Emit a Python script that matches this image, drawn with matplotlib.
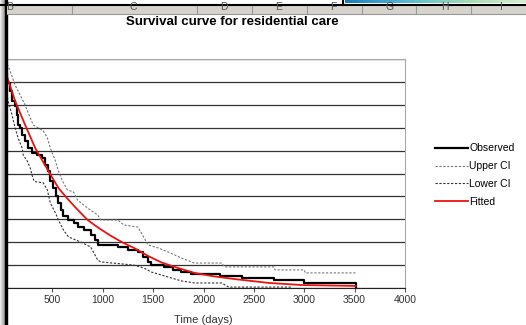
import numpy as np
import matplotlib.pyplot as plt
from matplotlib.patches import Rectangle

plt.rcParams['font.family'] = ['Liberation Sans', 'DejaVu Sans']

# Observed (Kaplan-Meier steps)
obs_t = [0, 30, 50, 80, 100, 130, 150, 160, 180, 200, 230, 260, 300, 350, 400, 430,
         460, 480, 510, 540, 560, 590, 610, 660, 710, 750, 810, 880, 920, 950, 1150,
         1250, 1350, 1400, 1450, 1480, 1610, 1700, 1780, 1880, 2160, 2380, 2700,
         3000, 3510]
obs_s = [1.0, 0.94, 0.895, 0.86, 0.817, 0.795, 0.755, 0.712, 0.699, 0.668, 0.642,
         0.611, 0.59, 0.581, 0.568, 0.537, 0.511, 0.467, 0.437, 0.40, 0.371, 0.34,
         0.314, 0.297, 0.284, 0.266, 0.253, 0.231, 0.21, 0.188, 0.179, 0.166, 0.157,
         0.135, 0.114, 0.10, 0.092, 0.08, 0.07, 0.061, 0.052, 0.044, 0.035, 0.022,
         0.004]

# Upper confidence limit
up_t = [0, 40, 80, 130, 180, 230, 260, 310, 360, 410, 450, 480, 530, 560, 600, 650,
        710, 750, 850, 950, 980, 1150, 1210, 1350, 1450, 1550, 1650, 1780, 1910,
        2180, 2210, 2700, 2710, 3000, 3010, 3510]
up_s = [1.0, 0.99, 0.948, 0.886, 0.843, 0.799, 0.764, 0.712, 0.699, 0.686, 0.655,
        0.611, 0.555, 0.511, 0.467, 0.428, 0.419, 0.384, 0.349, 0.319, 0.297, 0.297,
        0.275, 0.266, 0.188, 0.175, 0.157, 0.131, 0.109, 0.109, 0.092, 0.092, 0.079,
        0.079, 0.066, 0.066]

# Lower confidence limit
lo_t = [0, 30, 60, 100, 130, 160, 200, 210, 250, 280, 300, 320, 410, 450, 480, 530,
        560, 610, 660, 780, 880, 950, 980, 1310, 1410, 1480, 1550, 1680, 1780, 1910,
        2180, 2250, 2880]
lo_s = [1.0, 0.90, 0.817, 0.755, 0.699, 0.655, 0.611, 0.581, 0.555, 0.524, 0.49,
        0.465, 0.459, 0.428, 0.371, 0.328, 0.297, 0.253, 0.223, 0.201, 0.179, 0.122,
        0.114, 0.100, 0.087, 0.070, 0.061, 0.044, 0.031, 0.022, 0.022, 0.004, 0.004]

# Fitted curve
fit_t = [0, 30, 130, 230, 330, 460, 560, 650, 750, 850, 960, 1080, 1200, 1310, 1450,
         1580, 1750, 1910, 2100, 2310, 2650, 2980, 3510]
fit_s = [1.0, 0.95, 0.817, 0.712, 0.611, 0.511, 0.437, 0.390, 0.342, 0.297, 0.262,
         0.228, 0.198, 0.175, 0.140, 0.112, 0.087, 0.066, 0.051, 0.039, 0.022, 0.013,
         0.009]

xticks = [500, 1000, 1500, 2000, 2500, 3000, 3500, 4000]
col_letters = ['B', 'C', 'D', 'E', 'F', 'G', 'H', 'I']

W, H = 526, 325
fig = plt.figure(figsize=(W / 100, H / 100), dpi=100)

ax = fig.add_axes([2 / W, 1 - 288 / H, 403 / W, 229 / H])
ax.plot(obs_t, obs_s, color='black', lw=1.6, drawstyle='steps-post', label='Observed', zorder=4)
ax.plot(up_t, up_s, color='#777777', lw=0.8, ls=(0, (2, 1.5)), label='Upper CI', zorder=3)
ax.plot(lo_t, lo_s, color='#333333', lw=0.8, ls=(0, (2, 1.5)), label='Lower CI', zorder=3)
ax.plot(fit_t, fit_s, color='#ee1111', lw=1.3, label='Fitted', zorder=5)

ax.set_xlim(0, 4000)
ax.set_ylim(0, 1)
ax.set_yticks(np.arange(0, 1.01, 0.1))
ax.set_yticklabels([])
ax.tick_params(axis='y', length=0)
ax.yaxis.grid(True, color='#333333', lw=0.9)
ax.set_axisbelow(True)
ax.set_xticks(xticks)
ax.set_xticklabels([str(v) for v in xticks], fontsize=7.5, color='#333333')
ax.tick_params(axis='x', length=3, width=0.8, color='#555555', pad=2)
ax.spines['left'].set_visible(False)
ax.spines['top'].set_color('#aaaaaa')
ax.spines['right'].set_color('#aaaaaa')
ax.spines['bottom'].set_color('#222222')

ax.legend(loc='upper left', bbox_to_anchor=(426 / W, 1 - 134 / H),
          bbox_transform=fig.transFigure, frameon=False, fontsize=7.5,
          handlelength=3.1, handletextpad=0.15, labelspacing=0.75, borderpad=0.4)

fig.text(232 / W, 1 - 22 / H, 'Survival curve for residential care',
         fontsize=9.5, fontweight='bold', ha='center', va='center')
fig.text(203 / W, 1 - 320 / H, 'Time (days)', fontsize=8, ha='center',
         va='center', color='#333333')

# window decoration overlay
ov = fig.add_axes([0, 0, 1, 1], facecolor='none')
ov.set_xlim(0, W)
ov.set_ylim(H, 0)
ov.axis('off')

grad = np.linspace(0.95, 0.6, 20).reshape(1, -1)
ov.imshow(grad, cmap='gray', vmin=0, vmax=1, extent=(0, 5, H, 0), aspect='auto')
ov.add_patch(Rectangle((5, 0), 2, H, color='black'))

band = Rectangle((7, 5), W - 7, 9, facecolor='#d6d3cc', edgecolor='none')
ov.add_patch(band)
ov.plot([7, W], [14, 14], color='#999999', lw=0.8)
for sx in [72, 197, 252, 307, 362, 416, 471]:
    ov.plot([sx, sx], [5, 14], color='#999999', lw=0.8)
for lx, letter in zip([10, 133, 224, 279, 333, 390, 445, 501], col_letters):
    t = ov.text(lx, 7, letter, fontsize=7.5, ha='center', va='center', color='#555555')
    t.set_clip_path(band)

ov.plot([0, 343], [4.5, 4.5], color='black', lw=1.5)
ov.plot([343, 343], [0, 4.5], color='black', lw=1.5)
bar = np.linspace(0.2, 0.8, 50).reshape(1, -1)
ov.imshow(bar, cmap='GnBu_r', vmin=0, vmax=1, extent=(345, W, 3.5, 0), aspect='auto')
ov.plot([345, W], [4.5, 4.5], color='black', lw=1.5)
ov.set_xlim(0, W)
ov.set_ylim(H, 0)

fig.savefig('out.png', dpi=100)
